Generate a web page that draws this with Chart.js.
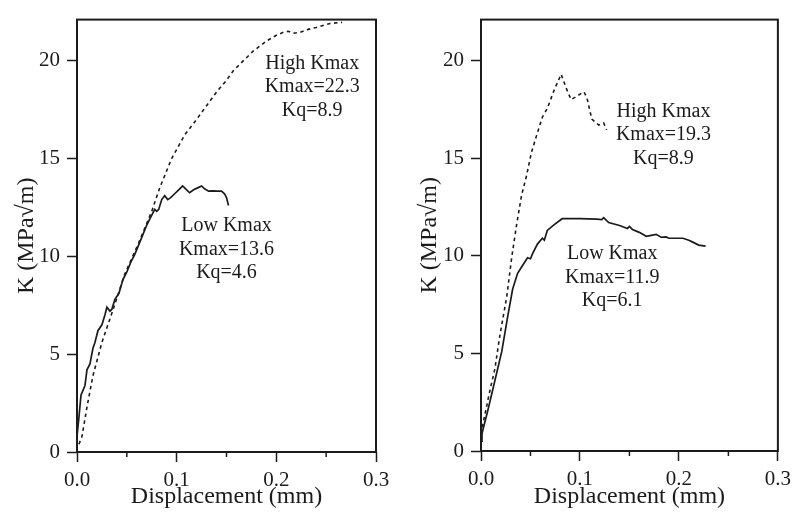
<!DOCTYPE html>
<html>
<head>
<meta charset="utf-8">
<script src="https://cdn.jsdelivr.net/npm/chart.js@4/dist/chart.umd.min.js"></script>
<style>
  html, body { margin: 0; padding: 0; background: #fff; }
  .panel { position: absolute; top: 0; height: 515px; }
  #leftBox { left: 0; width: 398px; }
  #rightBox { left: 398px; width: 399px; }
</style>
</head>
<body>
<div class="panel" id="leftBox"><canvas id="leftChart" width="398" height="515"></canvas></div>
<div class="panel" id="rightBox"><canvas id="rightChart" width="399" height="515"></canvas></div>
<script>
// ---- data ----
// left panel, low Kmax (solid)
const leftLowX = [0, 0.002, 0.004, 0.008, 0.010, 0.013, 0.016, 0.018, 0.021, 0.025,
  0.028, 0.030, 0.033, 0.035, 0.038, 0.042, 0.046, 0.050, 0.054, 0.058,
  0.062, 0.066, 0.070, 0.074, 0.078, 0.080, 0.082, 0.085, 0.088, 0.091,
  0.094, 0.098, 0.102, 0.106, 0.110, 0.113, 0.117, 0.121, 0.125, 0.128,
  0.132, 0.136, 0.141, 0.145, 0.148, 0.150, 0.152];
const leftLowK = [0.8, 1.8, 2.9, 3.4, 4.2, 4.5, 5.3, 5.6, 6.2, 6.5,
  7.0, 7.4, 7.2, 7.3, 7.8, 8.1, 8.8, 9.2, 9.7, 10.1,
  10.6, 11.1, 11.6, 12.0, 12.4, 12.3, 12.4, 12.9, 13.1, 12.9,
  13.0, 13.2, 13.4, 13.6, 13.4, 13.25, 13.4, 13.5, 13.6, 13.45,
  13.33, 13.35, 13.33, 13.33, 13.2, 13.0, 12.6];
// left panel, high Kmax (dashed)
const leftHighX = [0.002, 0.005, 0.010, 0.016, 0.025, 0.035, 0.048, 0.062, 0.075, 0.083,
  0.095, 0.108, 0.120, 0.130, 0.140, 0.150, 0.157, 0.165, 0.177, 0.190,
  0.200, 0.207, 0.212, 0.217, 0.224, 0.232, 0.240, 0.254, 0.266];
const leftHighK = [0.4, 0.8, 2.3, 3.9, 5.6, 7.1, 9.1, 10.7, 12.3, 13.5,
  15.0, 16.2, 17.0, 17.7, 18.4, 19.0, 19.5, 19.9, 20.5, 21.0,
  21.3, 21.45, 21.5, 21.4, 21.45, 21.6, 21.7, 21.9, 21.96];
// right panel, low Kmax (solid)
const rightLowX = [0.000, 0.001, 0.007, 0.014, 0.021, 0.027, 0.032, 0.037, 0.042, 0.047,
  0.050, 0.052, 0.057, 0.062, 0.064, 0.067, 0.074, 0.082, 0.100, 0.117,
  0.122, 0.124, 0.129, 0.140, 0.148, 0.150, 0.153, 0.160, 0.167, 0.172,
  0.177, 0.182, 0.187, 0.190, 0.204, 0.210, 0.214, 0.220, 0.227];
const rightLowK = [0.5, 0.9, 2.1, 3.6, 5.1, 6.9, 8.3, 9.1, 9.5, 9.9,
  9.85, 10.1, 10.6, 10.9, 10.8, 11.3, 11.6, 11.9, 11.9, 11.88,
  11.85, 11.95, 11.7, 11.55, 11.4, 11.5, 11.35, 11.2, 11.0, 11.05,
  11.1, 10.95, 10.97, 10.9, 10.9, 10.8, 10.7, 10.55, 10.5];
// right panel, high Kmax (dashed)
const rightHighX = [0.000, 0.002, 0.009, 0.014, 0.019, 0.026, 0.031, 0.036, 0.041, 0.046,
  0.051, 0.057, 0.062, 0.067, 0.074, 0.081, 0.086, 0.091, 0.096, 0.104,
  0.107, 0.112, 0.119, 0.124, 0.127];
const rightHighK = [0.5, 1.4, 3.1, 4.2, 5.9, 7.9, 9.9, 11.6, 13.1, 14.1,
  15.3, 16.3, 17.1, 17.55, 18.5, 19.3, 18.6, 18.0, 18.15, 18.4,
  18.1, 17.0, 16.7, 16.8, 16.45];

// axes
const xMajorTicks = [0, 0.1, 0.2, 0.3];
const xMinorTicks = [0.05, 0.15, 0.25];
const yTicks = [0, 5, 10, 15, 20];
const xTitle = 'Displacement (mm)';
const yTitle = 'K (MPa\u221Am)';

// text blocks inside the plots
const leftHighNote = ['High Kmax', 'Kmax=22.3', 'Kq=8.9'];
const leftLowNote = ['Low Kmax', 'Kmax=13.6', 'Kq=4.6'];
const rightHighNote = ['High Kmax', 'Kmax=19.3', 'Kq=8.9'];
const rightLowNote = ['Low Kmax', 'Kmax=11.9', 'Kq=6.1'];

const ink = '#1b1b1b';
const serif = "'Liberation Serif', 'DejaVu Serif', serif";

function pairs(xs, ys) {
    return xs.map((x, i) => ({ x: x, y: ys[i] }));
}

// frame, short minor ticks and the text blocks
const framePlugin = {
    id: 'frame',
    afterDraw(chart, args, opts) {
        const { ctx, chartArea: a, scales: { x, y } } = chart;
        ctx.save();
        ctx.strokeStyle = ink;
        ctx.lineWidth = 2;
        ctx.strokeRect(a.left, a.top, a.right - a.left, a.bottom - a.top);

        ctx.lineWidth = 1.5;
        xMinorTicks.forEach(v => {
            const px = x.getPixelForValue(v);
            ctx.beginPath();
            ctx.moveTo(px, a.bottom);
            ctx.lineTo(px, a.bottom + 5);
            ctx.stroke();
        });

        ctx.fillStyle = ink;
        ctx.font = '20px ' + serif;
        ctx.textAlign = 'center';
        ctx.textBaseline = 'middle';
        opts.notes.forEach(n => {
            const px = x.getPixelForValue(n.x);
            const py = y.getPixelForValue(n.y);
            n.lines.forEach((t, i) => ctx.fillText(t, px, py + i * 23.5));
        });
        ctx.restore();
    }
};

function makeChart(id, low, high, notes, g) {
    return new Chart(document.getElementById(id), {
        type: 'line',
        data: {
            datasets: [
                {
                    label: 'Low Kmax',
                    data: low,
                    borderColor: ink,
                    borderWidth: 1.7,
                    pointRadius: 0,
                    tension: 0
                },
                {
                    label: 'High Kmax',
                    data: high,
                    borderColor: ink,
                    borderWidth: 1.6,
                    borderDash: [3.5, 3.5],
                    pointRadius: 0,
                    tension: 0
                }
            ]
        },
        options: {
            responsive: false,
            animation: false,
            layout: { padding: { top: g.top, right: g.right, left: 0, bottom: 0 } },
            plugins: {
                legend: { display: false },
                tooltip: { enabled: false },
                frame: { notes: notes }
            },
            scales: {
                x: {
                    type: 'linear',
                    min: 0,
                    max: 0.3,
                    afterBuildTicks: axis => { axis.ticks = xMajorTicks.map(v => ({ value: v })); },
                    afterFit: axis => { axis.height = g.xHeight; },
                    grid: { drawOnChartArea: false, tickLength: 10, tickColor: ink, tickWidth: 1.5 },
                    border: { display: false },
                    ticks: {
                        color: ink,
                        font: { family: serif, size: 21 },
                        padding: 6,
                        maxRotation: 0,
                        callback: v => v.toFixed(1)
                    },
                    title: {
                        display: true,
                        text: xTitle,
                        color: ink,
                        font: { family: serif, size: 24 },
                        padding: { top: 0, bottom: 4 }
                    }
                },
                y: {
                    min: 0,
                    max: 22.1,
                    afterBuildTicks: axis => { axis.ticks = yTicks.map(v => ({ value: v })); },
                    afterFit: axis => { axis.width = g.yWidth; },
                    grid: { drawOnChartArea: false, tickLength: 10, tickColor: ink, tickWidth: 1.5 },
                    border: { display: false },
                    ticks: {
                        color: ink,
                        font: { family: serif, size: 21 },
                        padding: 7
                    },
                    title: {
                        display: true,
                        text: yTitle,
                        color: ink,
                        font: { family: serif, size: 24 },
                        padding: { top: g.yTitlePad, bottom: 0 }
                    }
                }
            }
        },
        plugins: [framePlugin]
    });
}

makeChart('leftChart',
    pairs(leftLowX, leftLowK),
    pairs(leftHighX, leftHighK),
    [
        { x: 0.236, y: 19.85, lines: leftHighNote },
        { x: 0.150, y: 11.56, lines: leftLowNote }
    ],
    { top: 12, right: 22, yWidth: 77, xHeight: 63, yTitlePad: 12 });

makeChart('rightChart',
    pairs(rightLowX, rightLowK),
    pairs(rightHighX, rightHighK),
    [
        { x: 0.1844, y: 17.38, lines: rightHighNote },
        { x: 0.1326, y: 10.1, lines: rightLowNote }
    ],
    { top: 11, right: 15, yWidth: 83, xHeight: 64, yTitlePad: 17 });
</script>
</body>
</html>
